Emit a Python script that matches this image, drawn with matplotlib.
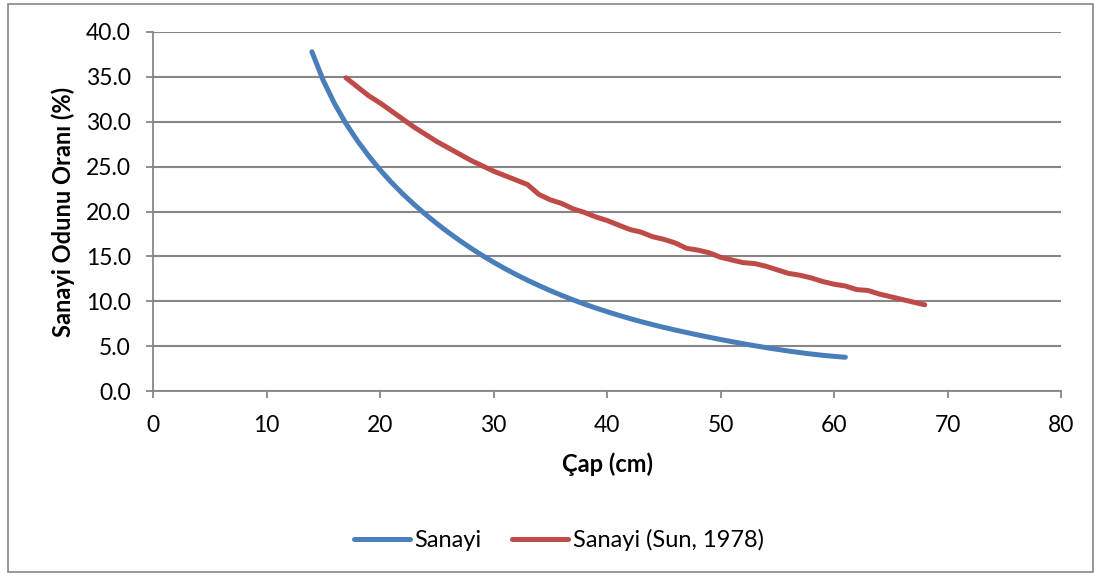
import matplotlib.pyplot as plt
from matplotlib.patches import Rectangle

plt.rcParams['font.family'] = ['Lato', 'DejaVu Sans']

# Sanayi odunu oranı (%) by diameter (cm)
cap_sanayi = list(range(14, 62))
oran_sanayi = [37.8, 34.6, 32.0, 29.8, 27.9, 26.2, 24.65, 23.25, 21.97, 20.79,
               19.69, 18.66, 17.69, 16.78, 15.92, 15.11, 14.35, 13.64, 12.97, 12.34,
               11.75, 11.19, 10.66, 10.16, 9.69, 9.25, 8.84, 8.45, 8.08, 7.73,
               7.40, 7.09, 6.80, 6.52, 6.25, 5.99, 5.74, 5.50, 5.27, 5.05,
               4.84, 4.64, 4.45, 4.28, 4.12, 3.98, 3.86, 3.76]

cap_sun = list(range(17, 69))
oran_sun = [34.9, 33.9, 32.9, 32.1, 31.2, 30.3, 29.4, 28.6, 27.8, 27.1,
            26.4, 25.7, 25.1, 24.5, 24.0, 23.5, 23.0, 21.9, 21.3, 20.9,
            20.3, 19.9, 19.4, 19.0, 18.5, 18.0, 17.7, 17.2, 16.9, 16.5,
            15.9, 15.7, 15.4, 14.9, 14.6, 14.3, 14.2, 13.9, 13.5, 13.1,
            12.9, 12.6, 12.2, 11.9, 11.7, 11.3, 11.2, 10.8, 10.5, 10.2,
            9.9, 9.6]

x_ticks = [0, 10, 20, 30, 40, 50, 60, 70, 80]
y_ticks = [0, 5, 10, 15, 20, 25, 30, 35, 40]

grid_col = '#868686'

fig = plt.figure(figsize=(11.01, 5.79), dpi=100)
ax = fig.add_axes([153 / 1101, 1 - 391 / 579, 908 / 1101, 359 / 579])

ax.plot(cap_sanayi, oran_sanayi, color='#4A7EBB', lw=3.6,
        solid_capstyle='round', solid_joinstyle='round', label='Sanayi', zorder=3)
ax.plot(cap_sun, oran_sun, color='#BE4B48', lw=3.6,
        solid_capstyle='round', solid_joinstyle='round',
        label='Sanayi (Sun, 1978)', zorder=3)

ax.set_xlim(0, 80)
ax.set_ylim(0, 40)
ax.set_xticks(x_ticks)
ax.set_yticks(y_ticks)
ax.set_yticklabels([f'{v:.1f}' for v in y_ticks])
ax.yaxis.grid(True, color=grid_col, lw=1.5)
ax.set_axisbelow(True)

for s in ['top', 'right']:
    ax.spines[s].set_visible(False)
for s in ['left', 'bottom']:
    ax.spines[s].set_color(grid_col)
    ax.spines[s].set_linewidth(1.3)
ax.tick_params(axis='both', colors=grid_col, labelcolor='black',
               labelsize=16.5, width=1.3, length=5)
ax.tick_params(axis='y', pad=11)
ax.tick_params(axis='x', pad=12)

ax.set_xlabel('Çap (cm)', fontsize=17, fontweight='bold', labelpad=12)
ax.set_ylabel('Sanayi Odunu Oranı (%)', fontsize=17, fontweight='bold', labelpad=8)

fig.legend(loc='center', bbox_to_anchor=(559 / 1101, 1 - 540 / 579), ncol=2,
           frameon=False, fontsize=17, handlelength=2.35, handletextpad=0.2,
           columnspacing=1.3)

fig.patches.append(Rectangle((8 / 1101, 1 - 572 / 579), 1085 / 1101, 568 / 579,
                             transform=fig.transFigure, fill=False,
                             edgecolor=grid_col, lw=1.2))

fig.savefig('out.png', dpi=100)
